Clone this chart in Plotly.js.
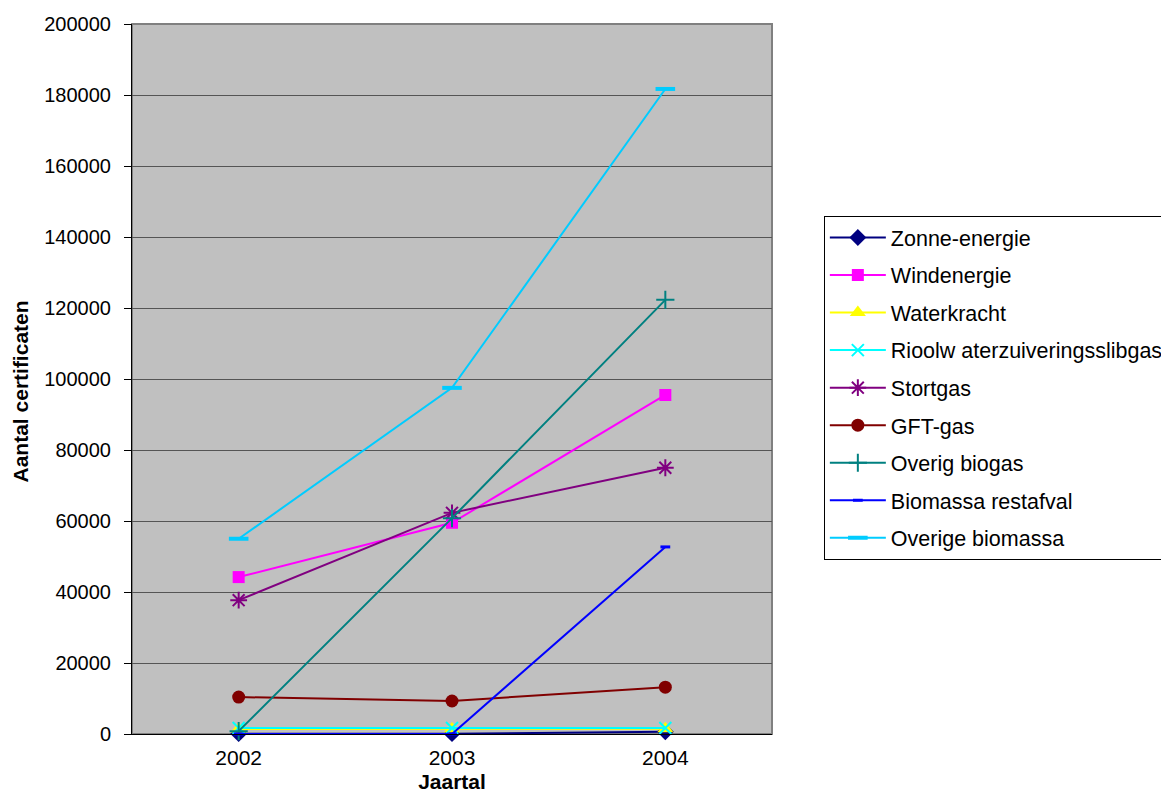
<!DOCTYPE html>
<html>
<head>
<meta charset="utf-8">
<script src="https://cdn.plot.ly/plotly-3.0.1.min.js"></script>
<style>body{margin:0;background:#fff;}#chart{width:1161px;height:793px;}</style>
</head>
<body>
<div id="chart"></div>
<script>
const years = ['2002', '2003', '2004'];
const seriesNames = ['Zonne-energie', 'Windenergie', 'Waterkracht', 'Rioolw aterzuiveringsslibgas', 'Stortgas', 'GFT-gas', 'Overig biogas', 'Biomassa restafval', 'Overige biomassa'];
const zonneEnergie = [100, 100, 600];
const windenergie = [44200, 59500, 95500];
const waterkracht = [1400, 1400, 1500];
const rioolwater = [1700, 1700, 1700];
const stortgas = [37700, 62300, 75000];
const gftGas = [10400, 9300, 13200];
const overigBiogas = [800, 60800, 122300];
const biomassaRestafval = [0, 0, 52700];
const overigeBiomassa = [55000, 97500, 181700];
const yTicks = [0, 20000, 40000, 60000, 80000, 100000, 120000, 140000, 160000, 180000, 200000];

const values = [zonneEnergie, windenergie, waterkracht, rioolwater, stortgas, gftGas, overigBiogas, biomassaRestafval, overigeBiomassa];
const colors = ['#000080', '#FF00FF', '#FFFF00', '#00FFFF', '#800080', '#800000', '#008080', '#0000FF', '#00CCFF'];
const markers = [
  {symbol: 'diamond', size: 13},
  {symbol: 'square', size: 12},
  {symbol: 'triangle-up', size: 14},
  {symbol: 'x-thin-open', size: 12, line: {width: 2}},
  {symbol: 'asterisk-open', size: 14, line: {width: 2}},
  {symbol: 'circle', size: 13},
  {symbol: 'cross-thin-open', size: 13, line: {width: 2}},
  {symbol: 'line-ew-open', size: 7, line: {width: 3}},
  {symbol: 'line-ew-open', size: 14, line: {width: 4}}
];

const traces = seriesNames.map((name, i) => {
  const m = Object.assign({color: colors[i]}, markers[i]);
  if (m.line) m.line = Object.assign({color: colors[i]}, m.line);
  return {
    type: 'scatter', mode: 'lines+markers', name: name, x: years, y: values[i],
    line: {color: colors[i], width: 2}, marker: m, legendgroup: 'g' + i, cliponaxis: false
  };
});

const layout = {
  width: 1161, height: 793,
  margin: {l: 132, r: 389, t: 24, b: 59, autoexpand: false},
  paper_bgcolor: '#ffffff', plot_bgcolor: '#C0C0C0',
  font: {family: 'Liberation Sans, Arial, sans-serif', color: '#000', size: 20},
  showlegend: true,
  legend: {
    x: 1.081, y: 0.7296, xanchor: 'left', yanchor: 'top',
    bgcolor: '#ffffff', bordercolor: '#000000', borderwidth: 1,
    font: {size: 21.5, family: 'Liberation Sans, Arial, sans-serif'},
    tracegroupgap: 6.6, itemwidth: 56, traceorder: 'grouped'
  },
  xaxis: {
    type: 'category', range: [-0.5, 2.5], showgrid: false, zeroline: false,
    showline: true, linecolor: '#000', linewidth: 1,
    ticks: '', tickfont: {size: 21}, ticklabelstandoff: 5,
    title: {text: 'Jaartal', font: {size: 21, family: 'Liberation Sans, Arial, sans-serif', weight: 'bold'}, standoff: 8}
  },
  yaxis: {
    range: [0, 200000], tickvals: yTicks, ticktext: yTicks.map(String),
    showgrid: true, gridcolor: '#555555', gridwidth: 1, zeroline: false,
    showline: true, linecolor: '#000', linewidth: 1,
    ticks: 'outside', ticklen: 7, tickcolor: '#000', tickfont: {size: 20}, ticklabelstandoff: 9
  },
  annotations: [
    {text: 'Aantal certificaten', xref: 'paper', yref: 'paper', x: -0.175, y: 0.4824,
     xanchor: 'center', yanchor: 'middle', textangle: -90, showarrow: false,
     font: {size: 21, family: 'Liberation Sans Narrow, Arial Narrow, Liberation Sans, Arial, sans-serif', weight: 'bold'}}
  ],
  shapes: [
    {type: 'rect', xref: 'paper', yref: 'paper', x0: 0, x1: 1, y0: 0, y1: 1, line: {color: '#808080', width: 2}, fillcolor: 'rgba(0,0,0,0)', layer: 'below'}
  ]
};

Plotly.newPlot('chart', traces, layout, {displayModeBar: false, staticPlot: true});
</script>
</body>
</html>
